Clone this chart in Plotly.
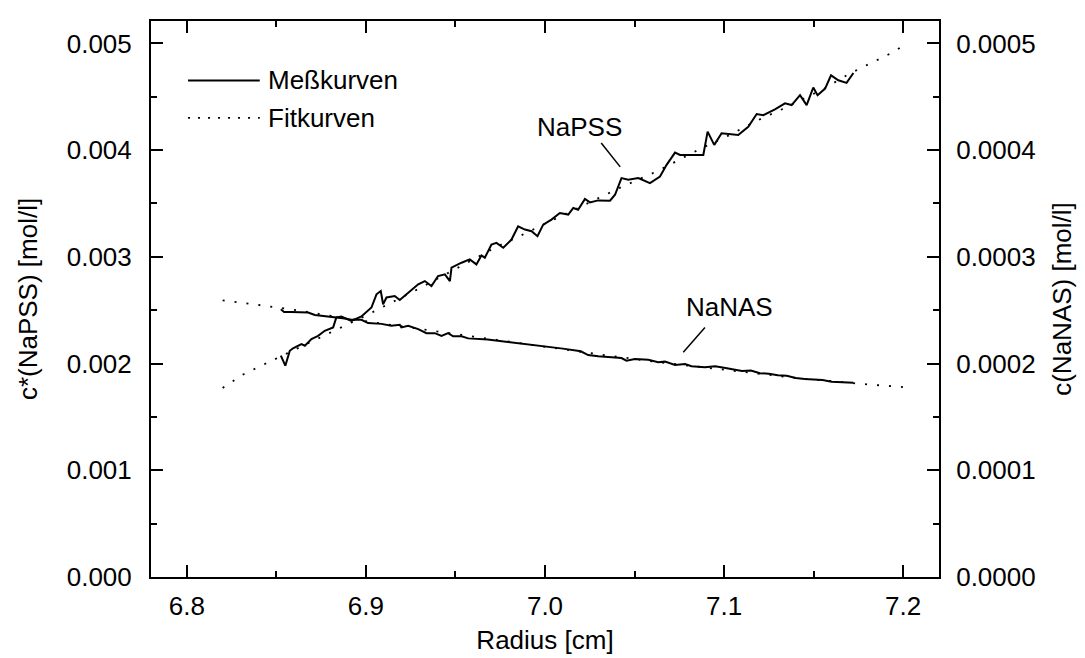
import plotly.graph_objects as go

# ---------------- data ----------------
napss_x = [6.8525, 6.8550, 6.8575, 6.8593, 6.8640, 6.8659, 6.8696, 6.8733, 6.8770, 6.8817,
           6.8835, 6.8863, 6.8919, 6.8975, 6.9031, 6.9059, 6.9083, 6.9096, 6.9115, 6.9161,
           6.9189, 6.9236, 6.9292, 6.9329, 6.9366, 6.9403, 6.9441, 6.9469, 6.9478, 6.9534,
           6.9580, 6.9617, 6.9645, 6.9664, 6.9701, 6.9729, 6.9767, 6.9813, 6.9850, 6.9888,
           6.9925, 6.9958, 6.9990, 7.0036, 7.0083, 7.0130, 7.0158, 7.0185, 7.0223, 7.0251,
           7.0297, 7.0363, 7.0391, 7.0427, 7.0465, 7.0521, 7.0586, 7.0642, 7.0679, 7.0726,
           7.0754, 7.0810, 7.0884, 7.0908, 7.0945, 7.0986, 7.1079, 7.1135, 7.1182, 7.1219,
           7.1284, 7.1340, 7.1377, 7.1424, 7.1461, 7.1498, 7.1522, 7.1564, 7.1597, 7.1638,
           7.1684, 7.1722]
napss_y = [0.002074, 0.001980, 0.002120, 0.002143, 0.002183, 0.002167, 0.002230, 0.002260, 0.002307, 0.002339,
           0.002432, 0.002441, 0.002400, 0.002441, 0.002525, 0.002649, 0.002680, 0.002556, 0.002619, 0.002633,
           0.002596, 0.002665, 0.002743, 0.002773, 0.002727, 0.002820, 0.002836, 0.002773, 0.002898, 0.002945,
           0.002976, 0.002929, 0.003013, 0.002992, 0.003116, 0.003131, 0.003085, 0.003162, 0.003286, 0.003256,
           0.003240, 0.003193, 0.003302, 0.003349, 0.003411, 0.003396, 0.003458, 0.003442, 0.003542, 0.003510,
           0.003529, 0.003526, 0.003582, 0.003738, 0.003722, 0.003738, 0.003691, 0.003753, 0.003862, 0.003977,
           0.003955, 0.003955, 0.003955, 0.004173, 0.004049, 0.004158, 0.004142, 0.004219, 0.004338, 0.004328,
           0.004381, 0.004438, 0.004422, 0.004515, 0.004422, 0.004587, 0.004515, 0.004577, 0.004701, 0.004655,
           0.004630, 0.004723]

napss_fit_x = [6.820, 6.8265, 6.832, 6.839, 6.846, 6.870, 6.900, 6.930, 6.973, 6.9856,
               7.0297, 7.0427, 7.0623, 7.0874, 7.1005, 7.1191, 7.1321, 7.1443, 7.156, 7.1694,
               7.1825, 7.195, 7.201]
napss_fit_y = [0.001772, 0.001840, 0.001903, 0.001959, 0.002015, 0.002210, 0.002450, 0.002705, 0.003094, 0.003193,
               0.003551, 0.003654, 0.003800, 0.004018, 0.004120, 0.004282, 0.004381, 0.004484, 0.004577, 0.004711,
               0.004820, 0.004923, 0.004990]

nanas_x = [6.8525, 6.8543, 6.8584, 6.8677, 6.8715, 6.8770, 6.8835, 6.8882, 6.8919, 6.8975,
           6.9012, 6.9050, 6.9087, 6.9142, 6.9189, 6.9198, 6.9236, 6.9292, 6.9338, 6.9385,
           6.9422, 6.9459, 6.9487, 6.9534, 6.9571, 6.9680, 6.9800, 6.9900, 7.0000, 7.0100,
           7.0200, 7.0241, 7.0297, 7.0353, 7.0427, 7.0455, 7.0502, 7.0577, 7.0632, 7.0670,
           7.0726, 7.0782, 7.0818, 7.0893, 7.0950, 7.1000, 7.1050, 7.1100, 7.1150, 7.1200,
           7.1250, 7.1300, 7.1350, 7.1400, 7.1450, 7.1500, 7.1550, 7.1600, 7.1650, 7.1722]
nanas_y = [0.0002509, 0.0002484, 0.0002484, 0.0002479, 0.0002456, 0.0002447, 0.0002432, 0.0002423, 0.0002410, 0.0002410,
           0.0002379, 0.0002379, 0.0002372, 0.0002354, 0.0002363, 0.0002339, 0.0002354, 0.0002323, 0.0002285, 0.0002285,
           0.0002260, 0.0002285, 0.0002255, 0.0002255, 0.0002236, 0.0002225, 0.0002200, 0.0002185, 0.0002165, 0.0002140,
           0.0002115, 0.0002080, 0.0002068, 0.0002059, 0.0002052, 0.0002027, 0.0002043, 0.0002036, 0.0002012, 0.0002018,
           0.0001987, 0.0001996, 0.0001975, 0.0001965, 0.0001975, 0.0001960, 0.0001945, 0.0001930, 0.0001935, 0.0001910,
           0.0001905, 0.0001890, 0.0001885, 0.0001865, 0.0001855, 0.0001850, 0.0001845, 0.0001830, 0.0001825, 0.0001820]

nanas_fit_x = [6.820, 6.858, 6.890, 6.940, 6.980, 7.020, 7.060, 7.100, 7.140, 7.180, 7.200]
nanas_fit_y = [0.0002593, 0.0002509, 0.0002420, 0.0002300, 0.0002210, 0.0002110, 0.0002020, 0.0001940, 0.0001865, 0.0001805, 0.0001780]

x_ticks = [6.8, 6.9, 7.0, 7.1, 7.2]
legend_labels = ["Meßkurven", "Fitkurven"]
FONT = "Arial, 'Liberation Sans', sans-serif"
FS = 26
DOT = "2px,10px"

fig = go.Figure()
fig.add_trace(go.Scatter(x=napss_fit_x, y=napss_fit_y, mode="lines",
                         line=dict(color="black", width=1.8, dash=DOT), showlegend=False))
fig.add_trace(go.Scatter(x=nanas_fit_x, y=nanas_fit_y, mode="lines", yaxis="y2",
                         line=dict(color="black", width=1.8, dash=DOT), showlegend=False))
fig.add_trace(go.Scatter(x=napss_x, y=napss_y, mode="lines",
                         line=dict(color="black", width=2), showlegend=False))
fig.add_trace(go.Scatter(x=nanas_x, y=nanas_y, mode="lines", yaxis="y2",
                         line=dict(color="black", width=2), showlegend=False))

axis_common = dict(showgrid=False, zeroline=False, showline=True, linewidth=2, linecolor="black",
                   ticks="inside", ticklen=12, tickwidth=2, tickcolor="black",
                   tickfont=dict(family=FONT, size=FS, color="black"))

fig.update_layout(
    width=1085, height=658, autosize=False,
    margin=dict(l=143, r=154, t=11, b=89),
    paper_bgcolor="white", plot_bgcolor="white",
    font=dict(family=FONT, size=FS, color="black"),
    xaxis=dict(**axis_common, range=[6.78, 7.22], tickvals=x_ticks, tickformat=".1f",
               mirror="ticks", ticklabelstandoff=5,
               minor=dict(dtick=0.05, tick0=6.8, ticks="inside", ticklen=6, tickwidth=2, tickcolor="black"),
               title=dict(text="Radius [cm]", font=dict(family=FONT, size=FS), standoff=11)),
    yaxis=dict(**axis_common, range=[0, 0.00521], dtick=0.001, tick0=0, tickformat=".3f",
               ticklabelstandoff=12,
               minor=dict(dtick=0.0005, tick0=0, ticks="inside", ticklen=6, tickwidth=2, tickcolor="black"),
               title=dict(text="c*(NaPSS) [mol/l]", font=dict(family=FONT, size=FS), standoff=22)),
    yaxis2=dict(**axis_common, overlaying="y", side="right", range=[0, 0.000521], dtick=0.0001, tick0=0,
                tickformat=".4f", ticklabelstandoff=10,
                minor=dict(dtick=0.00005, tick0=0, ticks="inside", ticklen=6, tickwidth=2, tickcolor="black"),
                title=dict(text="c(NaNAS) [mol/l]", font=dict(family=FONT, size=FS), standoff=18)),
)

# legend (samples + labels)
fig.add_shape(type="line", xref="paper", yref="paper", x0=0.047, x1=0.138, y0=0.893, y1=0.893,
              line=dict(color="black", width=2))
fig.add_shape(type="line", xref="paper", yref="paper", x0=0.047, x1=0.138, y0=0.8256, y1=0.8256,
              line=dict(color="black", width=1.8, dash="2px,8px"))
fig.add_annotation(xref="paper", yref="paper", x=0.146, y=0.893, text=legend_labels[0], showarrow=False,
                   xanchor="left", yanchor="middle", font=dict(family=FONT, size=FS, color="black"))
fig.add_annotation(xref="paper", yref="paper", x=0.146, y=0.8256, text=legend_labels[1], showarrow=False,
                   xanchor="left", yanchor="middle", font=dict(family=FONT, size=FS, color="black"))

# curve labels with pointer lines
fig.add_annotation(x=7.0191, y=0.004216, text="NaPSS", showarrow=False,
                   xanchor="center", yanchor="middle", font=dict(family=FONT, size=FS, color="black"))
fig.add_shape(type="line", x0=7.0314, y0=0.004067, x1=7.0420, y1=0.003843, line=dict(color="black", width=1.5))
fig.add_annotation(x=7.1029, y=0.002528, text="NaNAS", showarrow=False,
                   xanchor="center", yanchor="middle", font=dict(family=FONT, size=FS, color="black"))
fig.add_shape(type="line", x0=7.0893, y0=0.002339, x1=7.0772, y1=0.002105, line=dict(color="black", width=1.5))

fig.write_html("out.html")
